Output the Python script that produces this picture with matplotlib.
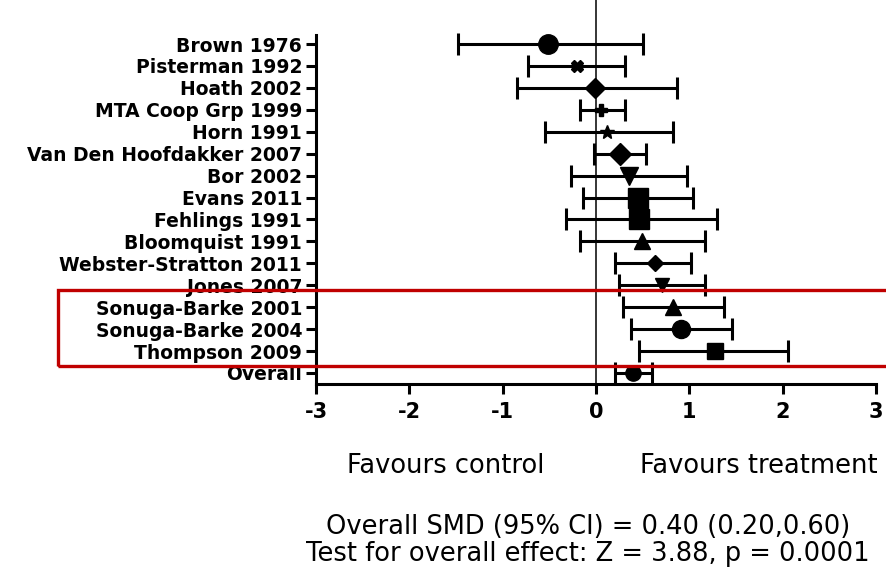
import matplotlib
matplotlib.use("Agg")
import matplotlib.pyplot as plt
from matplotlib.patches import Rectangle

# study data (standardised mean difference, 95% CI)
studies = ["Brown 1976", "Pisterman 1992", "Hoath 2002", "MTA Coop Grp 1999",
           "Horn 1991", "Van Den Hoofdakker 2007", "Bor 2002", "Evans 2011",
           "Fehlings 1991", "Bloomquist 1991", "Webster-Stratton 2011",
           "Jones 2007", "Sonuga-Barke 2001", "Sonuga-Barke 2004",
           "Thompson 2009", "Overall"]
smd = [-0.51, -0.20, -0.01, 0.05, 0.12, 0.26, 0.35, 0.45,
       0.46, 0.49, 0.63, 0.71, 0.82, 0.91, 1.28, 0.40]
ci_low = [-1.48, -0.73, -0.85, -0.17, -0.55, -0.02, -0.27, -0.14,
          -0.32, -0.17, 0.20, 0.25, 0.29, 0.37, 0.46, 0.20]
ci_high = [0.50, 0.31, 0.87, 0.31, 0.82, 0.54, 0.97, 1.04,
           1.30, 1.17, 1.02, 1.17, 1.37, 1.46, 2.06, 0.60]
markers = ["o", "X", "D", "P", "*", "D", "v", "s",
           "s", "^", "D", "v", "^", "o", "s", "o"]
msizes = [14, 8, 10, 9, 10, 11, 13, 14, 14, 12, 8, 10, 11, 13, 12, 11]
xticks = [-3, -2, -1, 0, 1, 2, 3]

W, H = 886, 570
fig = plt.figure(figsize=(W / 100, H / 100), dpi=100)


def fx(px):
    return px / W


def fy(py):
    return 1 - py / H


# axes: left 316px, right 876px, top 0px, bottom 384px
ax = fig.add_axes([fx(316), fy(384), fx(876) - fx(316), fy(0) - fy(384)])

row0, step = 44, 21.93
ypos = list(range(len(studies)))

for i in ypos:
    ax.errorbar(smd[i], i, xerr=[[smd[i] - ci_low[i]], [ci_high[i] - smd[i]]],
                fmt=markers[i], color="black", ms=msizes[i], elinewidth=2.2,
                capsize=8, capthick=2.2, zorder=3)

ax.axvline(0, color="black", lw=1.1, zorder=1)

ax.set_xlim(-3, 3)
ax.set_ylim((384 - row0) / step, (0 - row0) / step)
ax.set_xticks(xticks)
ax.set_xticklabels([str(t) for t in xticks], fontsize=15, fontweight="bold")
ax.set_yticks(ypos)
ax.set_yticklabels(studies, fontsize=13.5, fontweight="bold")

for side in ["top", "right"]:
    ax.spines[side].set_visible(False)
for side in ["left", "bottom"]:
    ax.spines[side].set_linewidth(2.2)
ax.spines["left"].set_bounds((384 - row0) / step, (35 - row0) / step)
ax.tick_params(axis="both", length=7, width=2.2, color="black")
ax.tick_params(axis="y", pad=3)
ax.tick_params(axis="x", pad=6)

# highlight box around the three studies
box = Rectangle((fx(58), fy(366)), fx(890) - fx(58), fy(290) - fy(366),
                transform=fig.transFigure, fill=False, edgecolor="#c00000",
                linewidth=2.4, clip_on=False, zorder=10)
fig.patches.append(box)

fig.text(fx(347), fy(466), "Favours control", fontsize=18.5, ha="left", va="center")
fig.text(fx(878), fy(466), "Favours treatment", fontsize=18.5, ha="right", va="center")
fig.text(fx(588), fy(527), "Overall SMD (95% CI) = 0.40 (0.20,0.60)",
         fontsize=18.5, ha="center", va="center")
fig.text(fx(588), fy(554), "Test for overall effect: Z = 3.88, p = 0.0001",
         fontsize=18.5, ha="center", va="center")

fig.savefig("out.png", dpi=100)
